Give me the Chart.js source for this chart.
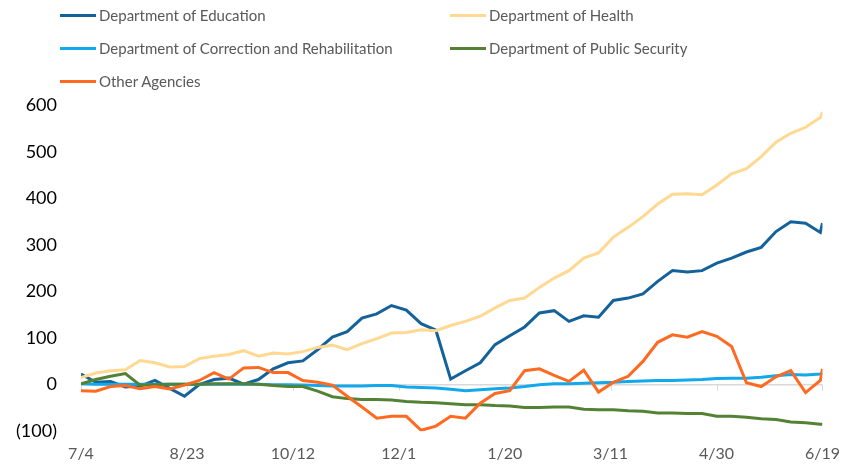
<!DOCTYPE html>
<html><head><meta charset="utf-8">
<script src="https://cdn.jsdelivr.net/npm/chart.js@4.4.0/dist/chart.umd.min.js"></script>
<style>
html,body{margin:0;padding:0;background:#fff;}
#wrap{position:relative;width:853px;height:466px;}
#legend{position:absolute;left:0;top:0;width:853px;height:100px;font-family:Lato,"Open Sans",sans-serif;font-size:15px;color:#595959;}
.item{position:absolute;display:flex;align-items:center;height:20px;white-space:nowrap;}
.swatch{width:36px;height:3px;margin-right:3px;}
</style></head><body>
<div id="wrap"><canvas id="c" width="853" height="466"></canvas><div id="legend"></div></div>
<script>
// Weekly observation dates
const weekDates = ['2020-07-04','2020-07-11','2020-07-18','2020-07-25','2020-08-01','2020-08-08','2020-08-15','2020-08-22','2020-08-29',
 '2020-09-05','2020-09-12','2020-09-19','2020-09-26','2020-10-03','2020-10-10','2020-10-17','2020-10-24','2020-10-31',
 '2020-11-07','2020-11-14','2020-11-21','2020-11-28','2020-12-05','2020-12-12','2020-12-19','2020-12-26',
 '2021-01-02','2021-01-09','2021-01-16','2021-01-23','2021-01-30','2021-02-06','2021-02-13','2021-02-20','2021-02-27',
 '2021-03-06','2021-03-13','2021-03-20','2021-03-27','2021-04-03','2021-04-10','2021-04-17','2021-04-24',
 '2021-05-01','2021-05-08','2021-05-15','2021-05-22','2021-05-29','2021-06-05','2021-06-12','2021-06-19','2021-06-20'];
const xTickLabels = ['7/4','8/23','10/12','12/1','1/20','3/11','4/30','6/19'];
const xTickStepDays = 50;

const seriesNames = ['Department of Education','Department of Health','Department of Correction and Rehabilitation','Department of Public Security','Other Agencies'];

const education = [23,5,7,-5,-3,9,-8,-25,0,11,14,1,11,34,47,51,75,102,114,143,152,170,160,131,117,12,30,47,86,105,124,154,159,136,148,145,181,186,195,222,245,242,245,261,272,285,295,329,350,347,327,347];
const health = [15,25,30,32,52,47,38,39,56,61,65,73,61,68,66,71,80,85,75,88,99,111,112,118,116,127,136,147,165,181,186,209,229,245,272,283,317,338,361,388,409,410,408,429,453,464,490,521,540,553,574,586];
const correction = [2,1,1,1,1,1,1,1,1,1,1,1,1,0,0,-1,-2,-3,-3,-3,-2,-2,-5,-6,-7,-10,-13,-11,-9,-7,-4,0,2,2,3,4,5,7,8,9,9,10,11,13,14,14,16,19,22,21,23,25];
const publicSecurity = [2,11,18,24,-1,0,1,1,1,2,2,2,1,-2,-4,-4,-14,-26,-30,-32,-32,-33,-36,-38,-39,-41,-43,-43,-45,-46,-49,-49,-48,-48,-53,-54,-54,-56,-57,-61,-61,-62,-62,-68,-68,-70,-73,-75,-80,-82,-85,-85];
const otherAgencies = [-13,-14,-4,-2,-9,-4,-9,-1,9,26,12,36,37,26,26,9,5,-1,-25,-48,-72,-68,-68,-98,-89,-68,-72,-40,-19,-13,30,34,20,7,31,-16,5,18,50,91,107,102,114,104,82,4,-4,17,30,-17,9,34];

const seriesValues = [education, health, correction, publicSecurity, otherAgencies];
const seriesColors = ['#14629A','#FFD891','#12A9EC','#548235','#FF6A21'];

const t0 = Date.parse(weekDates[0]);
const dayOffsets = weekDates.map(d => Math.round((Date.parse(d) - t0) / 864e5));

const datasets = seriesNames.map((name, i) => ({
  label: name,
  data: seriesValues[i].map((v, k) => ({x: dayOffsets[k], y: v})),
  borderColor: seriesColors[i],
  backgroundColor: seriesColors[i],
  borderWidth: 3,
  pointRadius: 0,
  tension: 0,
  fill: false,
  order: seriesNames.length - i
}));

const zeroTicks = {
  id: 'zeroTicks',
  beforeDatasetsDraw(chart) {
    const ctx = chart.ctx, xs = chart.scales.x, ys = chart.scales.y;
    const y0 = ys.getPixelForValue(0);
    ctx.save();
    ctx.strokeStyle = '#d9d9d9';
    ctx.lineWidth = 1;
    xs.ticks.forEach(t => {
      const px = Math.round(xs.getPixelForValue(t.value)) + 0.5;
      ctx.beginPath(); ctx.moveTo(px, y0); ctx.lineTo(px, y0 + 6); ctx.stroke();
    });
    ctx.restore();
  }
};

const chart = new Chart(document.getElementById('c'), {
  type: 'line',
  data: {datasets},
  plugins: [zeroTicks],
  options: {
    responsive: false,
    animation: false,
    devicePixelRatio: 1,
    layout: {padding: {top: 105.4, right: 28.7, bottom: 0, left: 0}},
    plugins: {legend: {display: false}, tooltip: {enabled: false}},
    scales: {
      x: {
        type: 'linear', min: 0, max: dayOffsets[dayOffsets.length - 1],
        grid: {display: false, drawTicks: false},
        border: {display: false},
        afterFit: s => { s.height = 34.4; },
        ticks: {
          stepSize: xTickStepDays, includeBounds: false, autoSkip: false, maxRotation: 0,
          padding: 13, color: '#595959', font: {family: 'Lato', size: 16},
          callback: v => xTickLabels[Math.round(v / xTickStepDays)] ?? ''
        }
      },
      y: {
        min: -100, max: 600,
        grid: {drawTicks: false, color: c => c.tick && c.tick.value === 0 ? '#d9d9d9' : 'rgba(0,0,0,0)', lineWidth: 1.5},
        border: {display: false},
        afterFit: s => { s.width = 81; },
        ticks: {
          stepSize: 100, padding: 24, color: '#000', font: {family: 'Lato', size: 18},
          callback: v => v < 0 ? '(' + Math.abs(v) + ')' : String(v)
        }
      }
    }
  }
});

// Legend built from the chart's datasets
const legend = document.getElementById('legend');
chart.data.datasets.forEach((ds, i) => {
  const col = i % 2, row = Math.floor(i / 2);
  const el = document.createElement('div');
  el.className = 'item';
  el.style.left = (col === 0 ? 60 : 450) + 'px';
  el.style.top = (5 + row * 33) + 'px';
  const sw = document.createElement('span');
  sw.className = 'swatch';
  sw.style.background = ds.borderColor;
  const tx = document.createElement('span');
  tx.textContent = ds.label;
  el.appendChild(sw); el.appendChild(tx);
  legend.appendChild(el);
});
</script>
</body></html>
